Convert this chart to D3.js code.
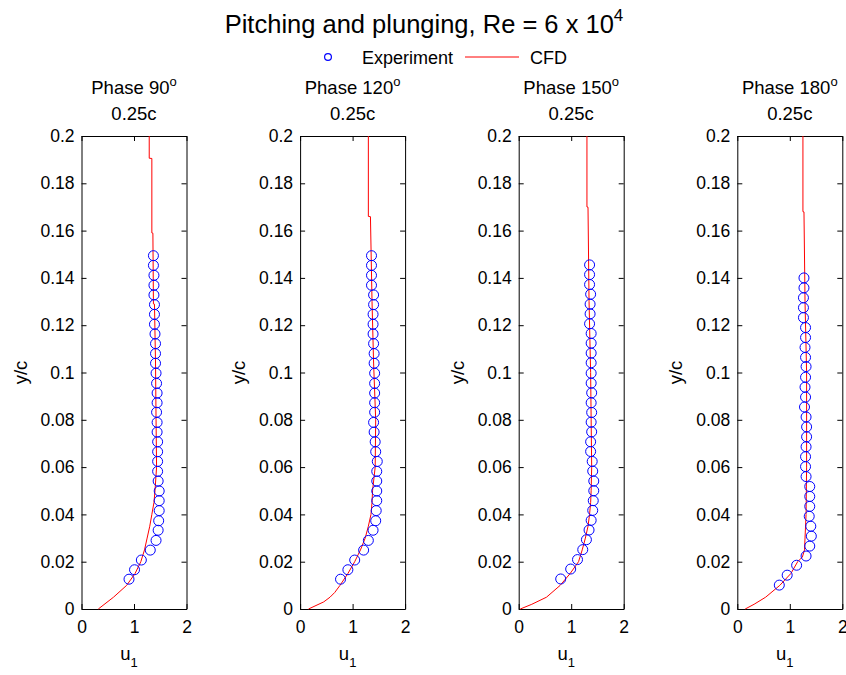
<!DOCTYPE html>
<html><head><meta charset="utf-8">
<script src="https://cdn.jsdelivr.net/npm/d3@7"></script>
<style>body{margin:0;background:#fff}svg{font-family:"Liberation Sans",Arial,sans-serif}</style>
</head><body><svg id="c" width="846" height="675"></svg>
<script>
const phases = ["90", "120", "150", "180"];
const xTicks = [0, 1, 2];
const yTicks = [0, 0.02, 0.04, 0.06, 0.08, 0.1, 0.12, 0.14, 0.16, 0.18, 0.2];
const yTickLabels = ["0", "0.02", "0.04", "0.06", "0.08", "0.1", "0.12", "0.14", "0.16", "0.18", "0.2"];

// Experiment y/c positions and u1 values
const expY1 = [0.1494,0.1453,0.1411,0.1369,0.1328,0.1287,0.1246,0.1204,0.1163,0.1122,0.1080,0.1039,0.0997,0.0954,0.0913,0.0872,0.0832,0.0789,0.0748,0.0707,0.0665,0.0624,0.0582,0.0541,0.0499,0.0458,0.0416,0.0373,0.0333,0.0290,0.0249,0.0207,0.0166,0.0126];
const expU1 = [1.37,1.37,1.38,1.38,1.38,1.39,1.39,1.39,1.40,1.41,1.41,1.41,1.42,1.43,1.44,1.44,1.43,1.44,1.44,1.45,1.45,1.45,1.45,1.46,1.48,1.48,1.48,1.47,1.46,1.42,1.31,1.14,1.01,0.905];
const expY2 = [0.1494,0.1453,0.1411,0.1369,0.1328,0.1287,0.1246,0.1204,0.1163,0.1122,0.1080,0.1039,0.0997,0.0954,0.0913,0.0872,0.0832,0.0789,0.0748,0.0707,0.0665,0.0624,0.0582,0.0541,0.0499,0.0458,0.0416,0.0373,0.0333,0.0290,0.0249,0.0207,0.0166,0.0126];
const expU2 = [1.36,1.36,1.36,1.36,1.40,1.40,1.39,1.39,1.39,1.40,1.41,1.41,1.42,1.42,1.42,1.42,1.42,1.40,1.41,1.43,1.44,1.47,1.46,1.46,1.46,1.46,1.45,1.44,1.39,1.30,1.21,1.04,0.91,0.77];
const expY3 = [0.1455,0.1414,0.1372,0.1331,0.1289,0.1248,0.1206,0.1165,0.1124,0.1082,0.1041,0.0997,0.0955,0.0914,0.0872,0.0831,0.0790,0.0749,0.0707,0.0666,0.0624,0.0583,0.0541,0.0500,0.0458,0.0417,0.0375,0.0334,0.0293,0.0251,0.0209,0.0169,0.0127];
const expU3 = [1.35,1.35,1.35,1.37,1.36,1.36,1.35,1.38,1.38,1.38,1.38,1.38,1.38,1.39,1.38,1.39,1.38,1.39,1.37,1.37,1.40,1.41,1.43,1.43,1.42,1.41,1.38,1.34,1.29,1.22,1.12,0.99,0.80];
const expY4 = [0.1400,0.1358,0.1316,0.1274,0.1232,0.1190,0.1148,0.1106,0.1064,0.1025,0.0980,0.0938,0.0896,0.0854,0.0812,0.0770,0.0728,0.0686,0.0644,0.0602,0.0560,0.0518,0.0476,0.0434,0.0392,0.0350,0.0308,0.0266,0.0224,0.0185,0.0143,0.0101];
const expU4 = [1.27,1.27,1.26,1.26,1.26,1.30,1.30,1.29,1.30,1.31,1.30,1.29,1.30,1.28,1.31,1.32,1.32,1.31,1.30,1.30,1.31,1.38,1.38,1.38,1.37,1.40,1.41,1.38,1.31,1.13,0.95,0.80];

// CFD profiles
const cfdY1 = [0.2,0.1906,0.1905,0.159,0.1589,0.129,0.1289,0.104,0.08,0.06,0.05,0.045,0.04,0.035,0.03,0.025,0.02,0.015,0.01,0.005,0.0];
const cfdU1 = [1.29,1.29,1.34,1.34,1.36,1.37,1.39,1.41,1.42,1.43,1.40,1.38,1.34,1.30,1.25,1.20,1.13,1.02,0.86,0.61,0.32];
const cfdY2 = [0.2,0.166,0.1659,0.13,0.104,0.08,0.06,0.05,0.045,0.04,0.035,0.03,0.025,0.02,0.015,0.01,0.007,0.005,0.003,0.0];
const cfdU2 = [1.30,1.30,1.34,1.37,1.40,1.44,1.43,1.38,1.37,1.35,1.30,1.24,1.15,1.04,0.91,0.76,0.66,0.57,0.45,0.16];
const cfdY3 = [0.2,0.170,0.1699,0.13,0.10,0.08,0.06,0.05,0.045,0.04,0.035,0.03,0.025,0.02,0.015,0.01,0.005,0.002,0.0];
const cfdU3 = [1.30,1.30,1.32,1.34,1.37,1.38,1.39,1.38,1.37,1.35,1.32,1.27,1.21,1.14,0.98,0.79,0.53,0.25,0.03];
const cfdY4 = [0.2,0.168,0.1679,0.13,0.10,0.06,0.04,0.03,0.025,0.022,0.02,0.015,0.01,0.005,0.002,0.0];
const cfdU4 = [1.25,1.25,1.27,1.29,1.32,1.32,1.31,1.29,1.28,1.24,1.15,1.02,0.81,0.54,0.32,0.15];

const panels = [
  {phase: phases[0], ey: expY1, eu: expU1, cy: cfdY1, cu: cfdU1},
  {phase: phases[1], ey: expY2, eu: expU2, cy: cfdY2, cu: cfdU2},
  {phase: phases[2], ey: expY3, eu: expU3, cy: cfdY3, cu: cfdU3},
  {phase: phases[3], ey: expY4, eu: expU4, cy: cfdY4, cu: cfdU4}
];

const svg = d3.select("#c");
const yTop = 136, yBot = 609, pw = 105, step = 218.6, left0 = 81.5;
const y = d3.scaleLinear().domain([0, 0.2]).range([yBot, yTop]);

// Title
const t = svg.append("text").attr("x", 424).attr("y", 33).attr("text-anchor", "middle")
  .attr("font-size", 25.5).attr("fill", "#000");
t.append("tspan").text("Pitching and plunging, Re = 6 x 10");
t.append("tspan").attr("font-size", 17).attr("dy", -12).text("4");

// Legend
const lg = svg.append("g");
lg.append("circle").attr("cx", 328).attr("cy", 57).attr("r", 3.4).attr("fill", "none").attr("stroke", "#0000ff").attr("stroke-width", 1.2);
lg.append("text").attr("x", 362).attr("y", 64).attr("font-size", 18).text("Experiment");
lg.append("line").attr("x1", 465).attr("x2", 519).attr("y1", 57).attr("y2", 57).attr("stroke", "#ff0000").attr("stroke-width", 1);
lg.append("text").attr("x", 530).attr("y", 64).attr("font-size", 18).text("CFD");

panels.forEach((p, i) => {
  const L = left0 + i * step;
  const x = d3.scaleLinear().domain([0, 2]).range([L, L + pw]);
  const g = svg.append("g");
  const cx = L + pw / 2;

  const st = g.append("text").attr("x", cx).attr("y", 94).attr("text-anchor", "middle").attr("font-size", 18.5);
  st.append("tspan").text("Phase " + p.phase);
  st.append("tspan").attr("font-size", 13).attr("dy", -8).text("o");
  g.append("text").attr("x", cx).attr("y", 119.5).attr("text-anchor", "middle").attr("font-size", 18.5).text("0.25c");

  const ax = d3.axisLeft(y).tickValues(yTicks).tickSizeInner(-5).tickSizeOuter(0).tickPadding(7)
    .tickFormat((d, k) => yTickLabels[k]);
  const ga = g.append("g").attr("transform", `translate(${L},0)`).call(ax);
  const ar = d3.axisRight(y).tickValues(yTicks).tickSizeInner(-5).tickSizeOuter(0).tickFormat("");
  const gr = g.append("g").attr("transform", `translate(${L + pw},0)`).call(ar);
  const ab = d3.axisBottom(x).tickValues(xTicks).tickSizeInner(-5).tickSizeOuter(0).tickPadding(12).tickFormat(d3.format("d"));
  const gb = g.append("g").attr("transform", `translate(0,${yBot})`).call(ab);
  const at = d3.axisTop(x).tickValues(xTicks).tickSizeInner(-5).tickSizeOuter(0).tickFormat("");
  const gt = g.append("g").attr("transform", `translate(0,${yTop})`).call(at);
  [ga, gr, gb, gt].forEach(a => {
    a.selectAll("path").attr("stroke", "#000").attr("stroke-width", 1);
    a.selectAll("line").attr("stroke", "#000");
    a.selectAll("text").attr("font-size", 17.5).attr("fill", "#000").attr("font-family", '"Liberation Sans",Arial,sans-serif');
  });

  g.append("text").attr("transform", `translate(${L - 55},${(yTop + yBot) / 2}) rotate(-90)`)
    .attr("text-anchor", "middle").attr("font-size", 18.5).text("y/c");
  const xl = g.append("text").attr("x", cx - 5).attr("y", 660).attr("text-anchor", "middle").attr("font-size", 18.5);
  xl.append("tspan").text("u");
  xl.append("tspan").attr("font-size", 13).attr("dy", 7).text("1");

  const line = d3.line().x(d => x(d[0])).y(d => y(d[1]));
  g.append("path").datum(p.cu.map((u, k) => [u, p.cy[k]]))
    .attr("d", line).attr("fill", "none").attr("stroke", "#ff0000").attr("stroke-width", 1);

  g.selectAll("circle.e").data(p.eu.map((u, k) => [u, p.ey[k]])).enter().append("circle")
    .attr("class", "e").attr("cx", d => x(d[0])).attr("cy", d => y(d[1])).attr("r", 5)
    .attr("fill", "none").attr("stroke", "#0000ff").attr("stroke-width", 1);
});
</script></body></html>
